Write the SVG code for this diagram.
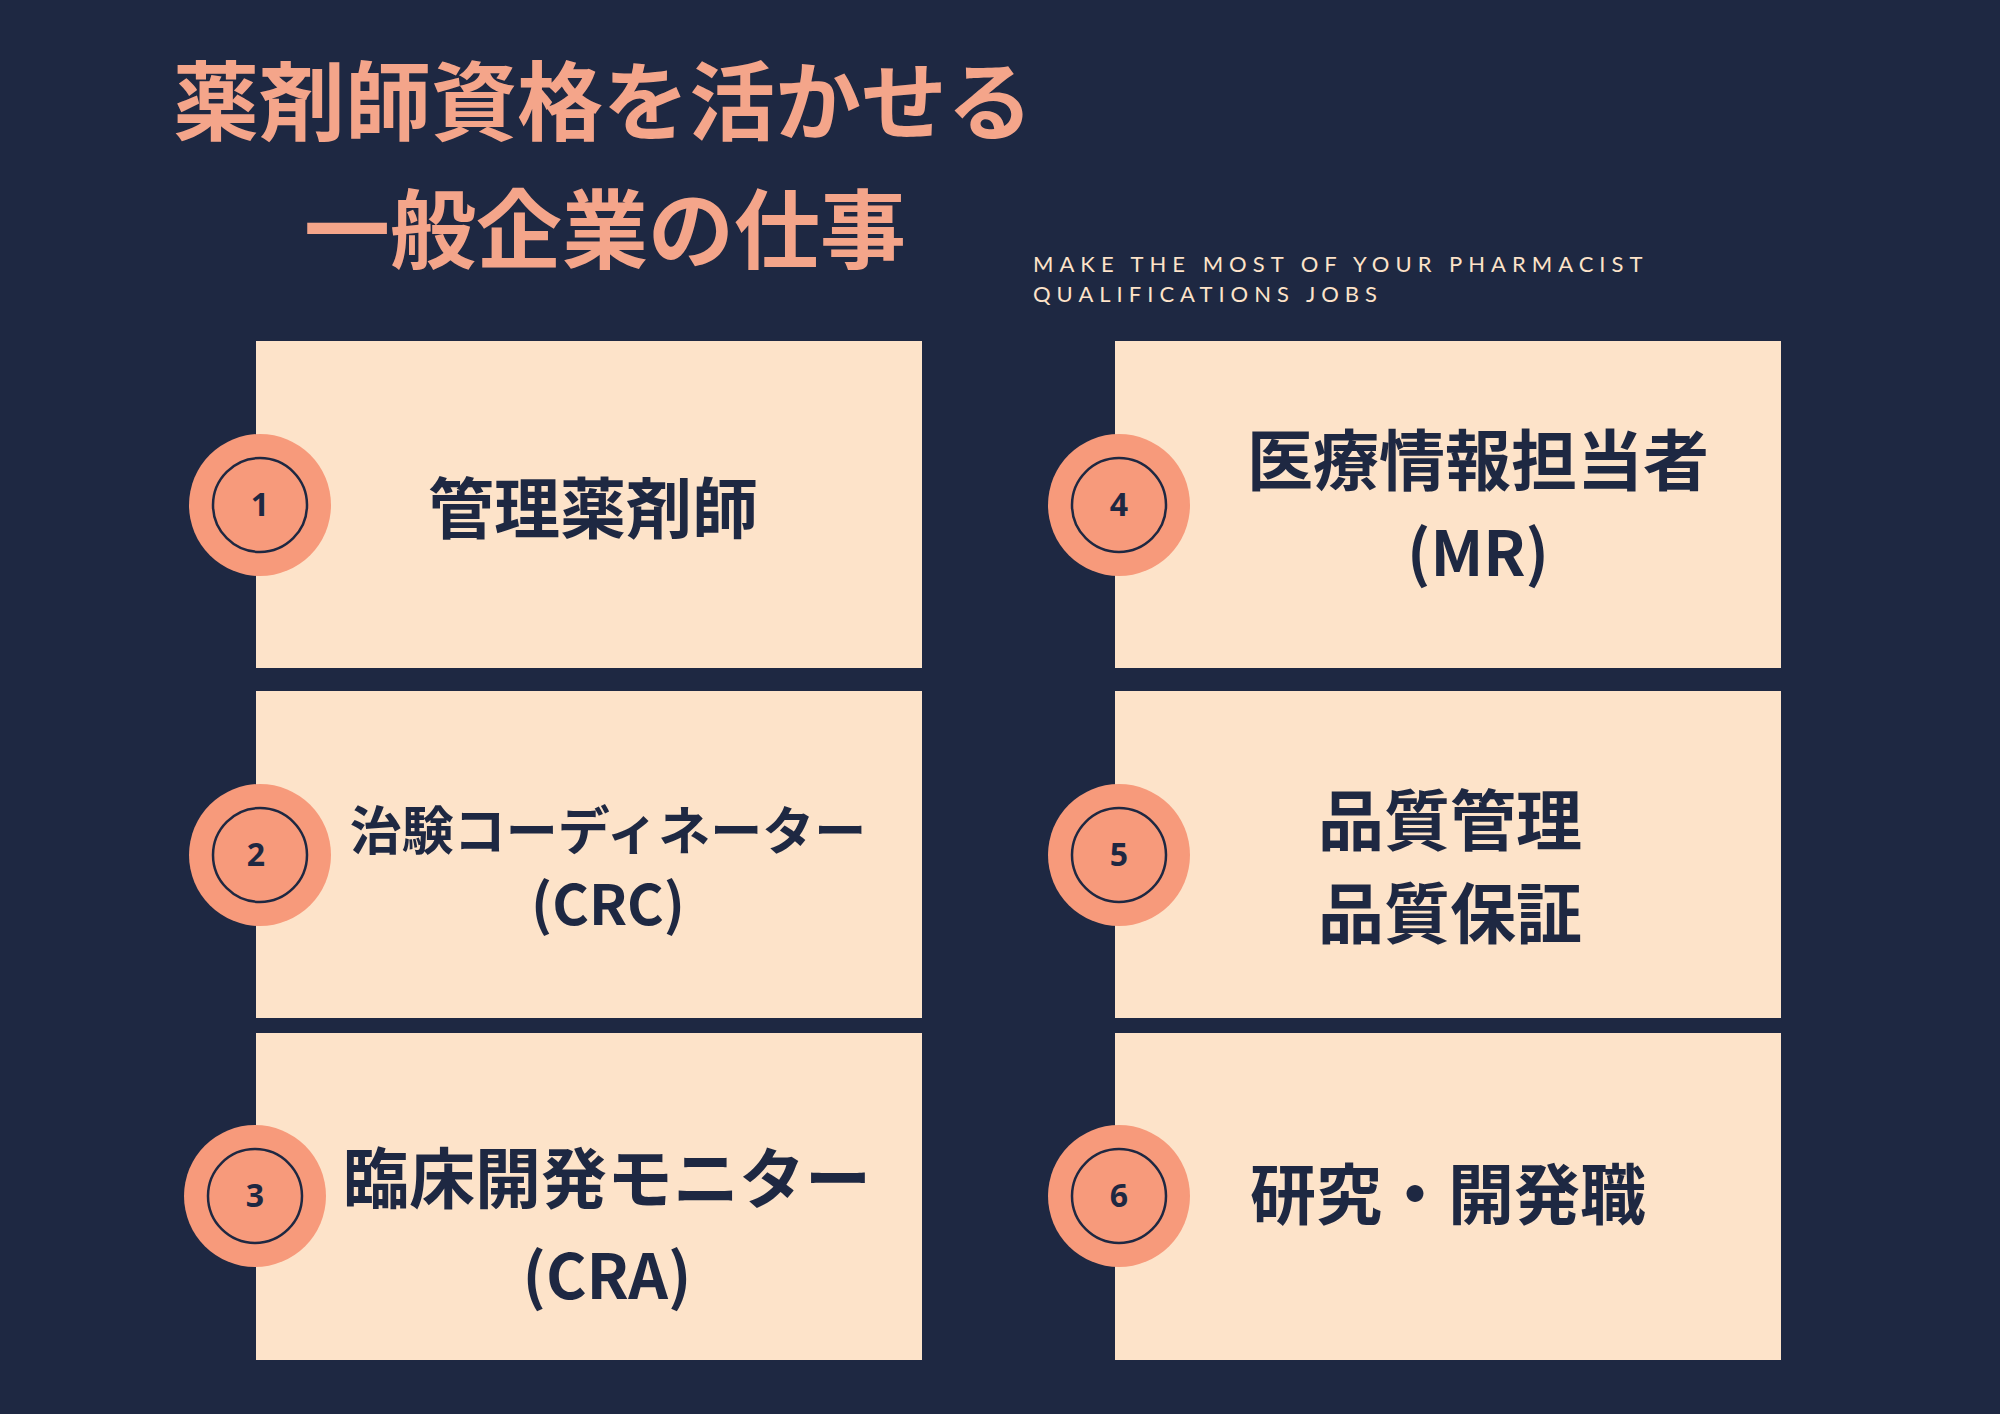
<svg xmlns="http://www.w3.org/2000/svg" width="2000" height="1414" viewBox="0 0 2000 1414">
<style>
.t{font-family:"Noto Sans CJK JP","Noto Sans",sans-serif;font-weight:700;fill:#f4a58a}
.b{fill:#fde3c9}
.l{font-family:"Noto Sans CJK JP","Noto Sans",sans-serif;font-weight:700;fill:#1e2842;text-anchor:middle}
.co{fill:#f79a7b}
.ci{fill:none;stroke:#1e2842;stroke-width:2.5}
.n{font-family:"Noto Sans","Open Sans",sans-serif;font-weight:700;font-size:32px;fill:#1e2842;text-anchor:middle}
.s{font-family:"Lato","Noto Sans",sans-serif;font-size:22px;fill:#fde3c9;letter-spacing:6px}
</style>
<rect width="2000" height="1414" fill="#1e2842"/>
<text class="t" x="173" y="134" font-size="86">薬剤師資格を活かせる</text>
<text class="t" x="304" y="262" font-size="86">一般企業の仕事</text>
<text class="s" x="1033" y="272">MAKE THE MOST OF YOUR PHARMACIST</text>
<text class="s" x="1033" y="302">QUALIFICATIONS JOBS</text>
<g id="n1"><rect class="b" x="256" y="341" width="666" height="327"/><circle class="co" cx="260" cy="505" r="71"/><circle class="ci" cx="260" cy="505" r="47"/><text class="n" x="260" y="516">1</text><text class="l" x="593" y="533" font-size="66">管理薬剤師</text></g>
<g id="n2"><rect class="b" x="256" y="691" width="666" height="327"/><circle class="co" cx="260" cy="855" r="71"/><circle class="ci" cx="260" cy="855" r="47"/><text class="n" x="256" y="866">2</text><text class="l" x="608" y="850" font-size="52">治験コーディネーター</text><text class="l" x="608" y="925" font-size="56">(CRC)</text></g>
<g id="n3"><rect class="b" x="256" y="1033" width="666" height="327"/><circle class="co" cx="255" cy="1196" r="71"/><circle class="ci" cx="255" cy="1196" r="47"/><text class="n" x="255" y="1207">3</text><text class="l" x="607" y="1203" font-size="66">臨床開発モニター</text><text class="l" x="607" y="1299" font-size="62">(CRA)</text></g>
<g id="n4"><rect class="b" x="1115" y="341" width="666" height="327"/><circle class="co" cx="1119" cy="505" r="71"/><circle class="ci" cx="1119" cy="505" r="47"/><text class="n" x="1119" y="516">4</text><text class="l" x="1478" y="485" font-size="66">医療情報担当者</text><text class="l" x="1478" y="576" font-size="62">(MR)</text></g>
<g id="n5"><rect class="b" x="1115" y="691" width="666" height="327"/><circle class="co" cx="1119" cy="855" r="71"/><circle class="ci" cx="1119" cy="855" r="47"/><text class="n" x="1119" y="866">5</text><text class="l" x="1450" y="845" font-size="66">品質管理</text><text class="l" x="1450" y="938" font-size="66">品質保証</text></g>
<g id="n6"><rect class="b" x="1115" y="1033" width="666" height="327"/><circle class="co" cx="1119" cy="1196" r="71"/><circle class="ci" cx="1119" cy="1196" r="47"/><text class="n" x="1119" y="1207">6</text><text class="l" x="1448" y="1219" font-size="66">研究・開発職</text></g>
<g id="connectors"/>
</svg>
